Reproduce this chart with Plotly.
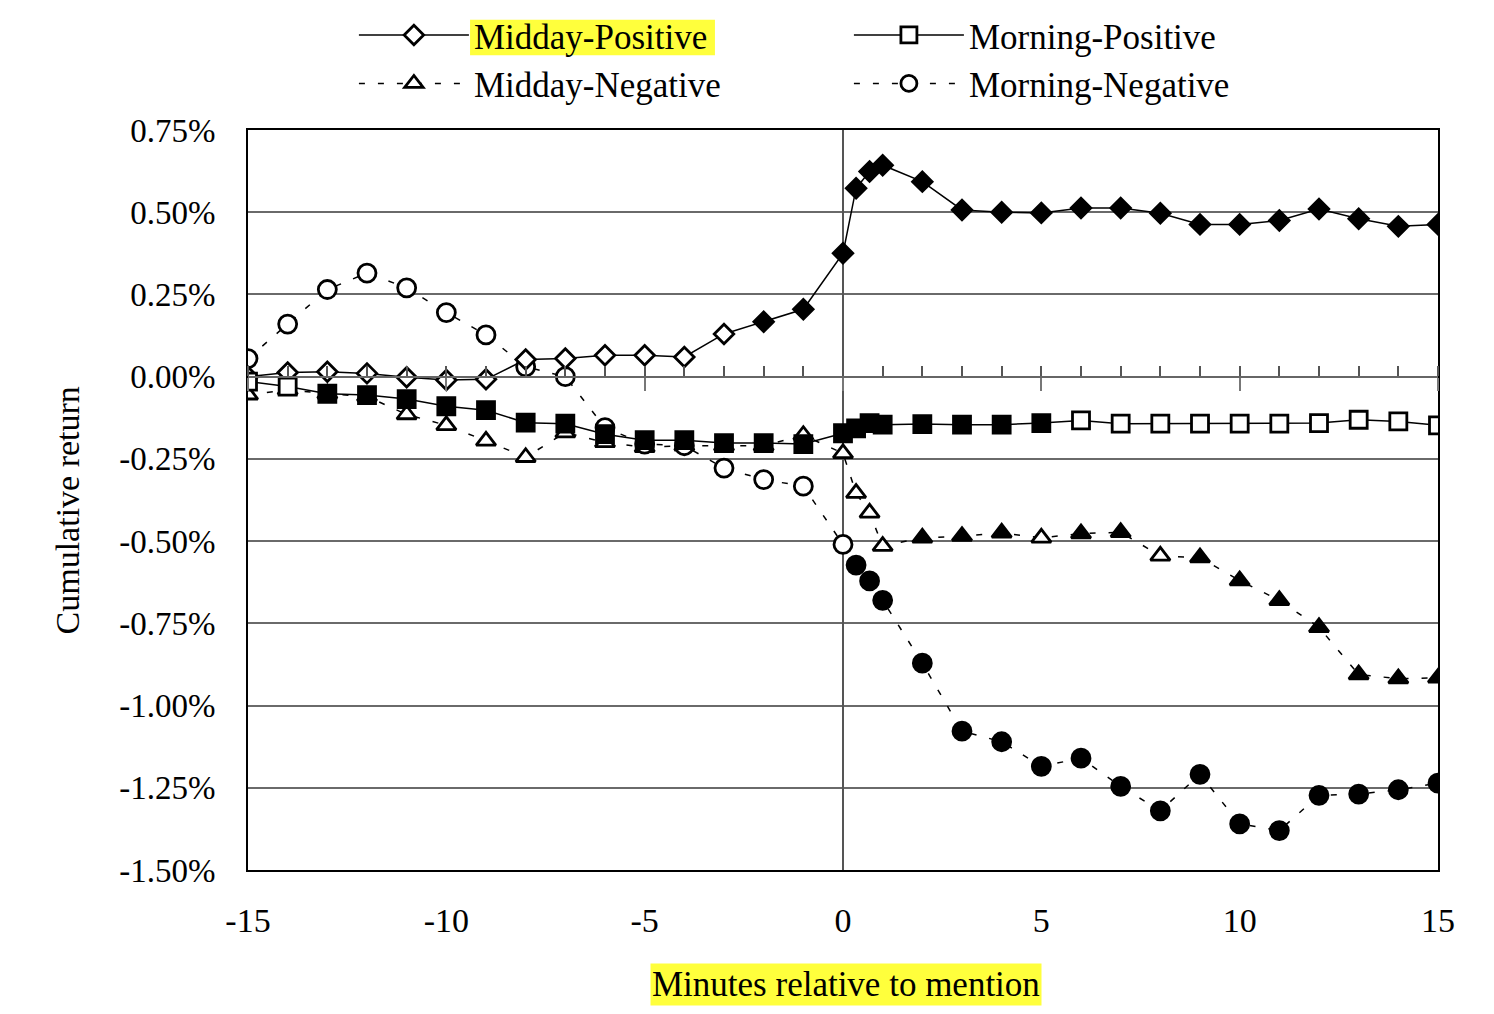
import plotly.graph_objects as go

minutes = [-15, -14, -13, -12, -11, -10, -9, -8, -7, -6, -5, -4, -3, -2, -1,
           0, 0.33, 0.67, 1, 2, 3, 4, 5, 6, 7, 8, 9, 10, 11, 12, 13, 14, 15]

midday_positive = [0.00, 0.013, 0.015, 0.01, -0.002, -0.01, -0.008, 0.052, 0.055, 0.065, 0.065, 0.06, 0.13, 0.167, 0.205,
                   0.375, 0.573, 0.624, 0.643, 0.593, 0.507, 0.50, 0.498, 0.513, 0.513, 0.497, 0.463, 0.463, 0.475, 0.51, 0.48, 0.457, 0.463]
midday_positive_sig = [0]*13 + [1]*20

morning_positive = [-0.015, -0.03, -0.052, -0.056, -0.068, -0.09, -0.102, -0.14, -0.143, -0.175, -0.193, -0.193, -0.202, -0.202, -0.205,
                    -0.172, -0.157, -0.141, -0.146, -0.144, -0.146, -0.146, -0.141, -0.133, -0.143, -0.143, -0.143, -0.143, -0.143, -0.141, -0.131, -0.136, -0.148]
morning_positive_sig = [0, 0] + [1]*21 + [0]*10

midday_negative = [-0.055, -0.04, -0.052, -0.06, -0.115, -0.148, -0.195, -0.245, -0.17, -0.2, -0.215, -0.21, -0.21, -0.21, -0.178,
                   -0.233, -0.354, -0.414, -0.515, -0.49, -0.485, -0.475, -0.49, -0.477, -0.473, -0.545, -0.55, -0.62, -0.68, -0.762, -0.906, -0.918, -0.916]
midday_negative_sig = [0]*19 + [1, 1, 1, 0, 1, 1, 0, 1, 1, 1, 1, 1, 1, 1]

morning_negative = [0.055, 0.16, 0.265, 0.315, 0.27, 0.195, 0.127, 0.03, 0.0, -0.155, -0.205, -0.21, -0.278, -0.313, -0.333,
                    -0.51, -0.573, -0.621, -0.68, -0.871, -1.078, -1.11, -1.185, -1.16, -1.246, -1.32, -1.209, -1.36, -1.38, -1.273, -1.269, -1.256, -1.236]
morning_negative_sig = [0]*16 + [1]*17

y_ticks = [0.75, 0.5, 0.25, 0.0, -0.25, -0.5, -0.75, -1.0, -1.25, -1.5]
y_tick_text = ["0.75%", "0.50%", "0.25%", "0.00%", "-0.25%", "-0.50%", "-0.75%", "-1.00%", "-1.25%", "-1.50%"]
x_ticks = [-15, -10, -5, 0, 5, 10, 15]
x_tick_text = ["-15", "-10", "-5", "0", "5", "10", "15"]

FONT = "Liberation Serif"


def fills(sig):
    return ["black" if s else "white" for s in sig]


fig = go.Figure()

series = [
    ("Midday-Negative", midday_negative, midday_negative_sig, "triangle-up", 17, "dash", 3),
    ("Morning-Negative", morning_negative, morning_negative_sig, "circle", 18, "dash", 4),
    ("Midday-Positive", midday_positive, midday_positive_sig, "diamond", 15, "solid", 1),
    ("Morning-Positive", morning_positive, morning_positive_sig, "square", 17, "solid", 2),
]
for name, vals, sig, sym, size, dash, rank in series:
    fig.add_trace(go.Scatter(
        x=minutes, y=vals, name=name, mode="lines+markers", legendrank=rank,
        line=dict(color="black", width=1.5, dash=("solid" if dash == "solid" else "6px,13px")),
        marker=dict(symbol=sym, size=size, color=fills(sig), line=dict(color="black", width=2.8)),
    ))

# helper axes for the tick marks along the zero line
fig.add_trace(go.Scatter(x=[None], y=[None], xaxis="x2", showlegend=False, hoverinfo="skip"))
fig.add_trace(go.Scatter(x=[None], y=[None], xaxis="x3", showlegend=False, hoverinfo="skip"))

zero_pos = (0 - y_ticks[-1]) / (y_ticks[0] - y_ticks[-1])

fig.update_layout(
    width=1494, height=1014,
    paper_bgcolor="white", plot_bgcolor="white",
    margin=dict(l=240, r=64, t=122, b=152, autoexpand=False),
    font=dict(family=FONT, color="black", size=33),
    showlegend=True,
    legend=dict(
        orientation="h", x=0.089, xanchor="left", y=1.168, yanchor="top",
        font=dict(family=FONT, size=35, color="black"),
        bgcolor="rgba(0,0,0,0)", itemwidth=110, entrywidth=370, entrywidthmode="pixels",
        tracegroupgap=0, itemclick=False,
    ),
    xaxis=dict(
        range=[-15, 15], tickvals=x_ticks, ticktext=x_tick_text, ticks="",
        showgrid=False, zeroline=True, zerolinecolor="#555555", zerolinewidth=2,
        showline=True, linecolor="black", linewidth=2, mirror=True,
        ticklabelstandoff=19, tickfont=dict(size=34),
    ),
    xaxis2=dict(
        overlaying="x", anchor="free", position=zero_pos, side="top", range=[-15, 15],
        tickmode="linear", tick0=0, dtick=1, ticks="outside", ticklen=10, tickwidth=2,
        tickcolor="#555555", showticklabels=False, showgrid=False, zeroline=False,
        showline=True, linecolor="#666666", linewidth=2,
    ),
    xaxis3=dict(
        overlaying="x", anchor="free", position=zero_pos, side="bottom", range=[-15, 15],
        tickmode="linear", tick0=0, dtick=5, ticks="outside", ticklen=13, tickwidth=2,
        tickcolor="#777777", showticklabels=False, showgrid=False, zeroline=False, showline=False,
    ),
    yaxis=dict(
        range=[-1.5, 0.75], tickvals=y_ticks, ticktext=y_tick_text, ticks="",
        showgrid=True, gridcolor="#6a6a6a", gridwidth=2, zeroline=False,
        showline=True, linecolor="black", linewidth=2, mirror=True,
        ticklabelstandoff=24, tickfont=dict(size=33),
    ),
    shapes=[
        dict(type="rect", xref="paper", yref="paper", x0=0.1866, x1=0.3924, y0=1.101, y1=1.149,
             fillcolor="#ffff3c", line=dict(width=0), layer="below"),
    ],
    annotations=[
        dict(text="Minutes relative to mention", xref="paper", yref="paper", x=0.5025, y=-0.155,
             xanchor="center", yanchor="middle", showarrow=False, bgcolor="#ffff3c",
             font=dict(family=FONT, size=35, color="black")),
        dict(text="Cumulative return", xref="paper", yref="paper", x=-0.152, y=0.486,
             xanchor="center", yanchor="middle", showarrow=False, textangle=-90,
             font=dict(family=FONT, size=34, color="black")),
    ],
)

fig.write_html("out.html")
